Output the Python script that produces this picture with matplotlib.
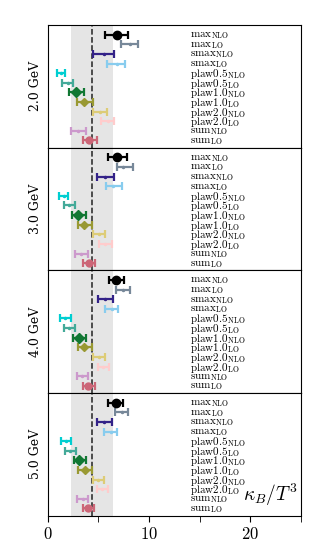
import numpy as np
import matplotlib
matplotlib.use('Agg')
import matplotlib.pyplot as plt

plt.rc('font', family='serif', serif=['DejaVu Serif'])
plt.rc('mathtext', fontset='cm')

# data
energies = ['2.0 GeV', '3.0 GeV', '4.0 GeV', '5.0 GeV']
models = ['max', 'max', 'smax', 'smax', 'plaw0.5', 'plaw0.5',
          'plaw1.0', 'plaw1.0', 'plaw2.0', 'plaw2.0', 'sum', 'sum']
orders = ['NLO', 'LO'] * 6

center_2 = [6.8, 8.1, 5.6, 6.8, 1.3, 2.0, 2.84, 3.6, 5.17, 5.93, 3.04, 4.12]
low_2 = [5.7, 7.2, 4.45, 5.9, 0.94, 1.46, 2.12, 2.94, 4.5, 5.27, 2.3, 3.47]
high_2 = [7.9, 8.95, 6.55, 7.6, 1.75, 2.5, 3.56, 4.45, 5.83, 6.58, 3.8, 4.85]

center_3 = [6.88, 7.47, 5.67, 6.49, 1.6, 2.12, 3.04, 3.63, 5.1, 5.67, 3.3, 4.12]
low_3 = [5.99, 6.88, 4.85, 5.76, 1.13, 1.6, 2.38, 2.97, 4.51, 5.07, 2.7, 3.53]
high_3 = [7.8, 8.4, 6.55, 7.3, 2.05, 2.7, 3.76, 4.41, 5.7, 6.32, 3.96, 4.68]

center_4 = [6.75, 7.41, 5.67, 6.32, 1.76, 2.15, 3.1, 3.63, 5.07, 5.5, 3.43, 4.02]
low_4 = [6.03, 6.75, 4.94, 5.67, 1.26, 1.66, 2.48, 2.97, 4.51, 4.94, 2.87, 3.53]
high_4 = [7.54, 8.13, 6.42, 6.98, 2.28, 2.7, 3.79, 4.35, 5.67, 6.09, 4.02, 4.68]

center_5 = [6.72, 7.31, 5.6, 6.22, 1.82, 2.22, 3.14, 3.69, 5.0, 5.4, 3.47, 4.02]
low_5 = [5.99, 6.65, 4.91, 5.6, 1.33, 1.72, 2.58, 3.04, 4.51, 4.85, 2.94, 3.53]
high_5 = [7.47, 7.96, 6.39, 6.88, 2.32, 2.78, 3.79, 4.35, 5.6, 5.99, 4.02, 4.61]

centers = [center_2, center_3, center_4, center_5]
lows = [low_2, low_3, low_4, low_5]
highs = [high_2, high_3, high_4, high_5]

band_lo, band_hi = 2.3, 6.45
ref_line = 4.4

colors = ['black', '#778899', '#332288', '#88CCEE', '#00CED1', '#44AA99',
          '#117733', '#999933', '#DDCC77', '#FFCCCC', '#CC99CC', '#CC6677']
markers = ['o', '.', '.', '.', '.', '.', 'D', 'D', '.', '.', '.', 'o']
msizes = [6, 3, 3, 3, 3, 3, 5, 4, 3, 3, 3, 5]

fig, axes = plt.subplots(4, 1, figsize=(3.17, 5.44), dpi=100, sharex=True)
fig.subplots_adjust(left=0.15, right=0.95, bottom=0.052, top=0.954, hspace=0)

rows = np.arange(len(models))
for k, ax in enumerate(axes):
    ax.axvspan(band_lo, band_hi, color='#e5e5e5', zorder=0, lw=0)
    ax.axvline(ref_line, color='#222222', ls='--', lw=1.1, zorder=1)
    c = np.array(centers[k])
    lo = c - np.array(lows[k])
    hi = np.array(highs[k]) - c
    for i in rows:
        ax.errorbar(c[i], i, xerr=[[lo[i]], [hi[i]]], fmt=markers[i],
                    color=colors[i], ms=msizes[i], capsize=2.8,
                    elinewidth=1.6, capthick=1.6, zorder=3)
        ax.text(14.0, i + 0.1, r'$\mathrm{%s}_{\mathrm{%s}}$' % (models[i], orders[i]),
                fontsize=8, va='center', ha='left')
    ax.set_ylim(11.75, -1.0)
    ax.set_yticks([])
    ax.set_ylabel(energies[k], fontsize=9)
    ax.set_xlim(0, 25)
    if k < 3:
        ax.tick_params(axis='x', bottom=False)

ax = axes[-1]
ax.set_xticks([0, 10, 20])
ax.set_xticklabels(['$0$', '$10$', '$20$'], fontsize=12)
ax.set_xticks([5, 15, 25], minor=True)
ax.tick_params(axis='x', which='both', length=4, direction='out')
ax.text(24.6, 10.9, r'$\kappa_B/T^3$', fontsize=14, ha='right', va='bottom')

plt.savefig('out.png', dpi=100)
